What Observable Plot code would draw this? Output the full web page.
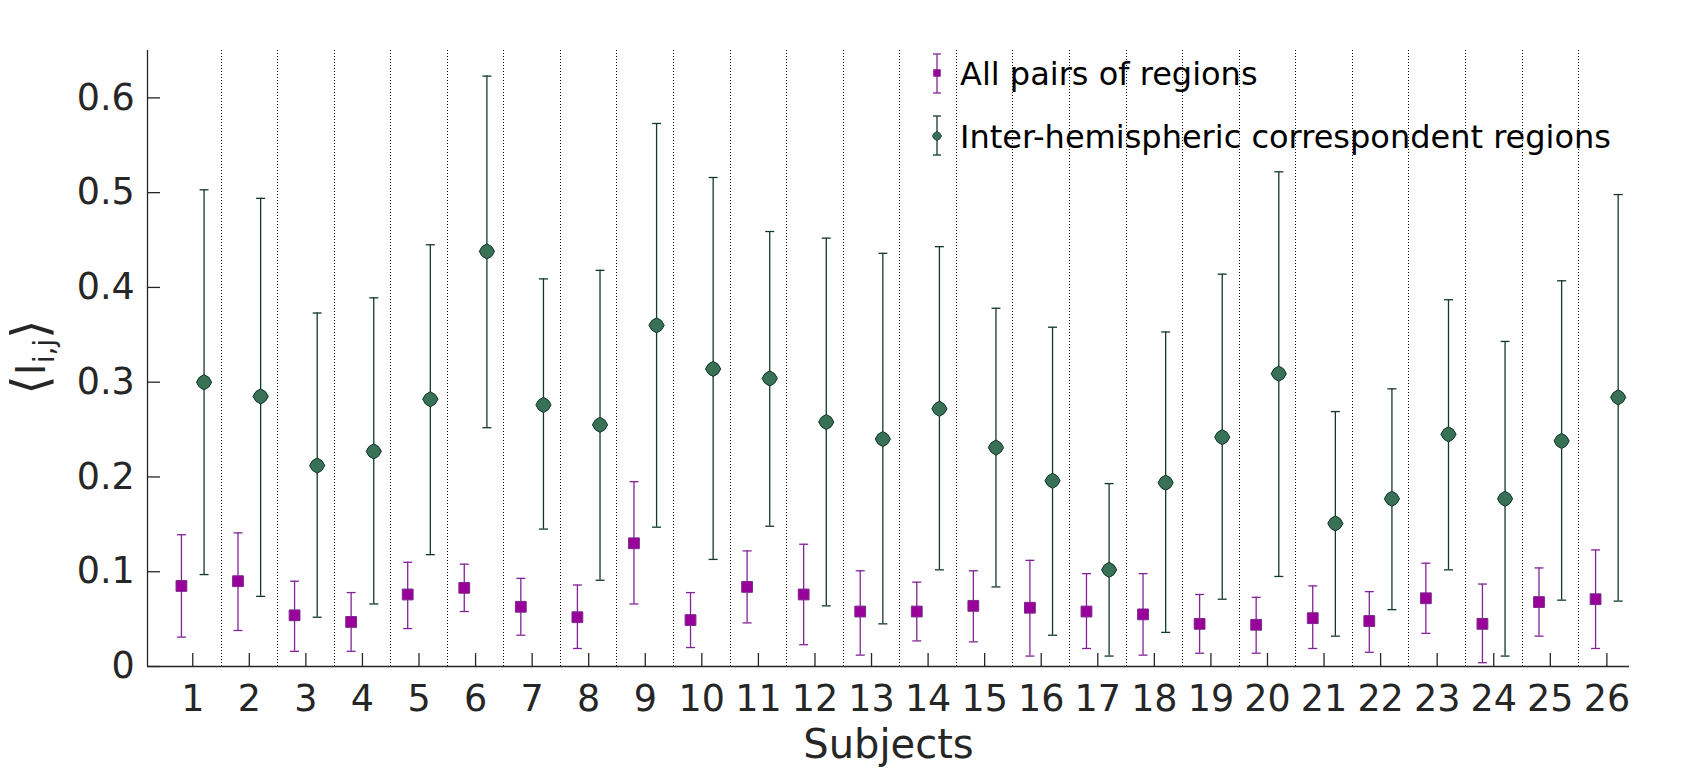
<!DOCTYPE html>
<html>
<head>
<meta charset="utf-8">
<script src="https://cdn.jsdelivr.net/npm/d3@7"></script>
<script src="https://cdn.jsdelivr.net/npm/@observablehq/plot@0.6"></script>
<style>
  html, body { margin: 0; padding: 0; background: #fff; }
  #chart { width: 1704px; height: 771px; }
</style>
</head>
<body>
<div id="chart"></div>
<script>
// ---- data ----
const subjects = [1,2,3,4,5,6,7,8,9,10,11,12,13,14,15,16,17,18,19,20,21,22,23,24,25,26];
const xTickLabels = subjects.map(String);

// All pairs of regions (purple squares)
const allMean = [0.085,0.090,0.054,0.047,0.076,0.083,0.063,0.052,0.130,0.049,0.084,0.076,0.058,0.058,0.064,0.062,0.058,0.055,0.045,0.044,0.051,0.048,0.072,0.045,0.068,0.071];
const allHigh = [0.139,0.141,0.090,0.078,0.110,0.108,0.093,0.086,0.195,0.078,0.122,0.129,0.101,0.089,0.101,0.112,0.098,0.098,0.076,0.073,0.085,0.079,0.109,0.087,0.104,0.123];
const allLow  = [0.031,0.038,0.016,0.016,0.040,0.058,0.033,0.019,0.066,0.020,0.046,0.023,0.012,0.027,0.026,0.011,0.019,0.012,0.014,0.014,0.019,0.015,0.035,0.004,0.032,0.019];

// Inter-hemispheric correspondent regions (green diamonds)
const interMean = [0.300,0.285,0.212,0.227,0.282,0.438,0.276,0.255,0.360,0.314,0.304,0.258,0.240,0.272,0.231,0.196,0.102,0.194,0.242,0.309,0.151,0.177,0.245,0.177,0.238,0.284];
const interHigh = [0.503,0.494,0.373,0.389,0.445,0.623,0.409,0.418,0.573,0.516,0.459,0.452,0.436,0.443,0.378,0.358,0.193,0.353,0.414,0.522,0.269,0.293,0.387,0.343,0.407,0.498];
const interLow  = [0.097,0.074,0.052,0.066,0.118,0.252,0.145,0.091,0.147,0.113,0.148,0.064,0.045,0.102,0.084,0.033,0.011,0.036,0.071,0.095,0.032,0.060,0.102,0.011,0.070,0.069];

const yTicks = [0, 0.1, 0.2, 0.3, 0.4, 0.5, 0.6];
const yTickLabels = ["0", "0.1", "0.2", "0.3", "0.4", "0.5", "0.6"];
const seriesNames = ["All pairs of regions", "Inter-hemispheric correspondent regions"];
const xLabel = "Subjects";

// ---- derived tables ----
const rows = subjects.map((s, i) => ({
  subject: s,
  allMean: allMean[i], allHigh: allHigh[i], allLow: allLow[i],
  interMean: interMean[i], interHigh: interHigh[i], interLow: interLow[i]
}));
const separators = subjects.slice(0, -1).map(s => s + 0.5);

// ---- style ----
const axisColor = "#262626";
const purpleLine = "#84229a", purpleFill = "#990099", purpleEdge = "#7a2a8c";
const greenLine = "#11392a", greenFill = "#397157", greenEdge = "#12372a";
const OFF = 0.2;

const squareSym = {draw(ctx, size) { const r = Math.sqrt(size / Math.PI); ctx.rect(-r, -r, 2 * r, 2 * r); }};
const lensSym = {draw(ctx, size) {
  const h = Math.sqrt(size / Math.PI), c = 0.76 * h;
  ctx.moveTo(0, -h);
  ctx.quadraticCurveTo(c, -c, h, 0);
  ctx.quadraticCurveTo(c, c, 0, h);
  ctx.quadraticCurveTo(-c, c, -h, 0);
  ctx.quadraticCurveTo(-c, -c, 0, -h);
  ctx.closePath();
}};
const capSym = {draw(ctx, size) { const r = Math.sqrt(size / Math.PI); ctx.moveTo(-r, 0); ctx.lineTo(r, 0); }};

const xA = d => d.subject - OFF;
const xB = d => d.subject + OFF;

const plot = Plot.plot({
  width: 1704,
  height: 771,
  marginLeft: 147,
  marginRight: 75,
  marginTop: 50,
  marginBottom: 105,
  style: {fontFamily: "DejaVu Sans", background: "#fff", overflow: "visible"},
  x: {type: "linear", domain: [0.2, 26.4]},
  y: {type: "linear", domain: [0, 0.65]},
  marks: [
    Plot.ruleX(separators, {stroke: "#000", strokeWidth: 1, strokeDasharray: "1,2", shapeRendering: "crispEdges"}),
    // purple series
    Plot.ruleX(rows, {x: xA, y1: "allLow", y2: "allHigh", stroke: purpleLine, strokeWidth: 1.3}),
    Plot.dot(rows, {x: xA, y: "allLow", symbol: capSym, r: 4.5, fill: "none", stroke: purpleLine, strokeWidth: 1.3}),
    Plot.dot(rows, {x: xA, y: "allHigh", symbol: capSym, r: 4.5, fill: "none", stroke: purpleLine, strokeWidth: 1.3}),
    Plot.dot(rows, {x: xA, y: "allMean", symbol: squareSym, r: 5.4, fill: purpleFill, stroke: purpleEdge, strokeWidth: 1}),
    // green series
    Plot.ruleX(rows, {x: xB, y1: "interLow", y2: "interHigh", stroke: greenLine, strokeWidth: 1.3}),
    Plot.dot(rows, {x: xB, y: "interLow", symbol: capSym, r: 4.5, fill: "none", stroke: greenLine, strokeWidth: 1.3}),
    Plot.dot(rows, {x: xB, y: "interHigh", symbol: capSym, r: 4.5, fill: "none", stroke: greenLine, strokeWidth: 1.3}),
    Plot.dot(rows, {x: xB, y: "interMean", symbol: lensSym, r: 7.6, fill: greenFill, stroke: greenEdge, strokeWidth: 1}),
    // axes
    Plot.axisX({ticks: subjects, tickFormat: d => xTickLabels[subjects.indexOf(d)], tickSize: -13, tickPadding: 32,
                fontSize: 36.5, color: axisColor, strokeWidth: 1.3, label: null}),
    Plot.axisY({ticks: yTicks, tickFormat: d => yTickLabels[yTicks.indexOf(d)], tickSize: -13, tickPadding: 25.7,
                fontSize: 36.5, color: axisColor, strokeWidth: 1.3, label: null}),
    Plot.ruleY([0], {stroke: axisColor, strokeWidth: 1.3}),
    Plot.ruleX([0.2], {stroke: axisColor, strokeWidth: 1.3}),
    Plot.text([xLabel], {frameAnchor: "bottom", lineAnchor: "bottom", dy: 91, fontSize: 40, fill: axisColor})
  ]
});

document.getElementById("chart").appendChild(plot);

// ---- y label with subscript ----
const svg = d3.select(plot);
const yl = svg.append("text")
  .attr("transform", "translate(45,357) rotate(-90)")
  .attr("text-anchor", "middle")
  .attr("font-family", "DejaVu Sans")
  .attr("font-size", 40)
  .attr("fill", axisColor);
yl.append("tspan").attr("font-size", 50).attr("dy", 2).text("⟨");
yl.append("tspan").attr("font-size", 40).attr("dy", -2).text("I");
yl.append("tspan").attr("font-size", 28).attr("dy", 9).text("i,j");
yl.append("tspan").attr("font-size", 50).attr("dy", -7).text("⟩");

// ---- legend ----
const lg = svg.append("g").attr("font-family", "DejaVu Sans").attr("font-size", 32).attr("text-anchor", "start");
function legendItem(cy, y0, y1, lineColor, drawMarker, label, baseline) {
  const g = lg.append("g");
  g.append("line").attr("x1", 937).attr("x2", 937).attr("y1", y0).attr("y2", y1).attr("stroke", lineColor).attr("stroke-width", 1.3);
  g.append("line").attr("x1", 933).attr("x2", 941).attr("y1", y0).attr("y2", y0).attr("stroke", lineColor).attr("stroke-width", 1.3);
  g.append("line").attr("x1", 933).attr("x2", 941).attr("y1", y1).attr("y2", y1).attr("stroke", lineColor).attr("stroke-width", 1.3);
  drawMarker(g, 937, cy);
  g.append("text").attr("x", 960).attr("y", baseline).attr("text-anchor", "start").attr("fill", "#000").text(label);
}
legendItem(73, 54, 93, purpleLine, (g, x, y) => {
  g.append("rect").attr("x", x - 3.3).attr("y", y - 3.3).attr("width", 6.6).attr("height", 6.6)
    .attr("fill", purpleFill).attr("stroke", purpleEdge).attr("stroke-width", 0.8);
}, seriesNames[0], 85);
legendItem(136, 116, 155, greenLine, (g, x, y) => {
  const h = 4.6, c = 0.76 * h;
  const p = d3.path();
  p.moveTo(x, y - h);
  p.quadraticCurveTo(x + c, y - c, x + h, y);
  p.quadraticCurveTo(x + c, y + c, x, y + h);
  p.quadraticCurveTo(x - c, y + c, x - h, y);
  p.quadraticCurveTo(x - c, y - c, x, y - h);
  p.closePath();
  g.append("path").attr("d", p.toString()).attr("fill", greenFill).attr("stroke", greenEdge).attr("stroke-width", 0.8);
}, seriesNames[1], 148);
</script>
</body>
</html>
